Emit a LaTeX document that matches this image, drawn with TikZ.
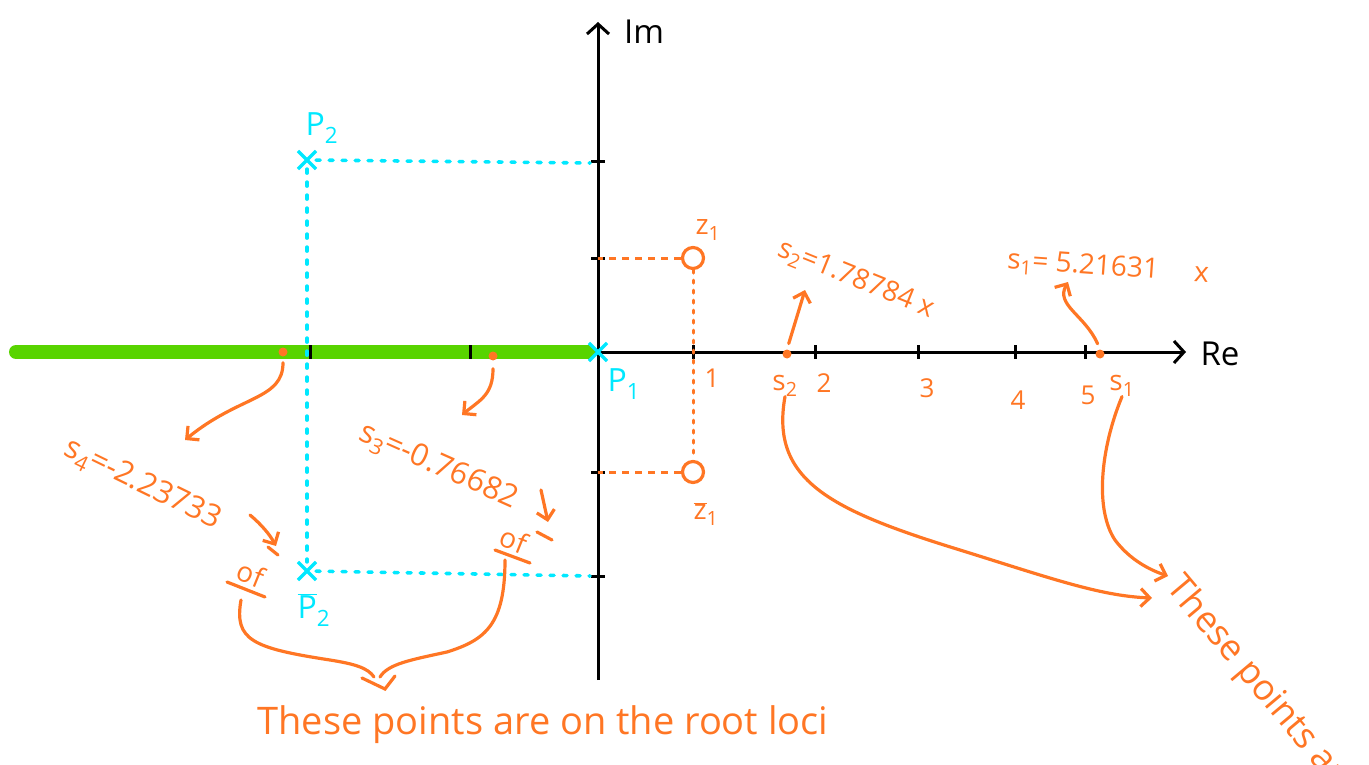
\documentclass[tikz,border=0pt]{standalone}
\usepackage{fontspec}
\setmainfont{Open Sans}
\usetikzlibrary{shapes.misc,arrows.meta}
\definecolor{locusorange}{RGB}{255,118,36}
\definecolor{polecyan}{RGB}{0,232,255}
\definecolor{locusgreen}{RGB}{88,212,0}
\tikzset{
  axis/.style={line width=3pt, -{Straight Barb[length=10pt,width=22pt,line width=3pt]}},
  axtick/.style={line width=3pt},
  ink/.style={locusorange, line width=3.2pt, line cap=round},
  pointer/.style={ink, -{Straight Barb[length=9pt,width=18pt,line width=3.2pt]}},
  pole/.style={draw=polecyan, cross out, line width=3.2pt, minimum size=15pt, inner sep=0pt},
  zerocirc/.style={draw=locusorange, circle, line width=3.2pt, minimum size=21pt, inner sep=0pt},
  rootdot/.style={fill=locusorange, circle, minimum size=9pt, inner sep=0pt},
  cyanguide/.style={polecyan, line width=3.6pt, line cap=round, dash pattern=on 4pt off 9pt},
  orangeguide/.style={locusorange, line width=3pt, dash pattern=on 7pt off 6pt},
  orangedots/.style={locusorange, line width=3pt, line cap=round, dash pattern=on 3pt off 7pt},
  cyantext/.style={text=polecyan, font=\fontsize{32}{34}\selectfont, inner sep=0pt},
  valtext/.style={text=locusorange, font=\fontsize{28}{30}\selectfont, inner sep=0pt},
  numlbl/.style={text=locusorange, font=\fontsize{26}{28}\selectfont, inner sep=0pt},
  bigtext/.style={text=locusorange, font=\fontsize{38}{40}\selectfont, inner sep=0pt},
}
\begin{document}
\begin{tikzpicture}[x=1pt, y=-1pt]
  \useasboundingbox (0,0) rectangle (1369,765);
  \clip (0,0) rectangle (1369,765);

  % Axes
  \coordinate (reStart) at (280,352);
  \coordinate (reEnd) at (1186,352);
  \coordinate (imStart) at (598,680);
  \coordinate (imEnd) at (598,22);
  \draw[axis] (reStart) -- (reEnd);
  \draw[axis] (imStart) -- (imEnd);
  \node[font=\fontsize{33}{35}\selectfont, inner sep=0pt] (relbl) at (1220,354) {Re};
  \node[font=\fontsize{33}{35}\selectfont, inner sep=0pt] (imlbl) at (644,32) {Im};

  % Root locus on the real axis
  \draw[locusgreen, line width=14pt, line cap=round] (16,352) -- (588,352);

  % Ticks
  \foreach \tx in {310,470,693,815,918,1015,1085}
    \draw[axtick] (\tx,345) -- (\tx,359);
  \foreach \ty in {162,258,472,576}
    \draw[axtick] (591,\ty) -- (605,\ty);
  \foreach \tx/\ty/\num in {712/378/1, 824/383/2, 927/388/3, 1018/400/4, 1088/395/5}
    \node[numlbl] (n\num) at (\tx,\ty) {\num};

  % Poles and zeros
  \node[pole] (p1) at (598,352) {};
  \node[pole] (p2) at (307,160) {};
  \node[pole] (p2b) at (307,571) {};
  \node[zerocirc] (z1) at (693,258) {};
  \node[zerocirc] (z1b) at (693,472) {};
  \node[cyantext] (p2lbl) at (322,128) {P\textsubscript{2}};
  \node[cyantext] (p1lbl) at (624,384) {P\textsubscript{1}};
  \node[cyantext] (p2blbl) at (314,610) {$\overline{\hbox{P}}$\textsubscript{2}};
  \node[numlbl, font=\fontsize{28}{30}\selectfont] (z1lbl) at (708,230) {z\textsubscript{1}};
  \node[numlbl, font=\fontsize{28}{30}\selectfont] (z1blbl) at (706,514) {$\overline{\hbox{z}}$\textsubscript{1}};

  % Guide lines to the imaginary axis
  \coordinate (yp2) at (590,163);
  \coordinate (yp2b) at (590,576);
  \coordinate (yz1) at (598,258);
  \coordinate (yz1b) at (598,472);
  \draw[cyanguide] (p2) -- (yp2);
  \draw[cyanguide] (p2) -- (p2b);
  \draw[cyanguide] (p2b) -- (yp2b);
  \draw[orangeguide] (z1) -- (yz1);
  \draw[orangeguide] (z1b) -- (yz1b);
  \draw[orangedots] (z1) -- (z1b);

  % Points s1..s4
  \node[rootdot] (s1) at (1100,354) {};
  \node[rootdot] (s2) at (787,354) {};
  \node[rootdot] (s3) at (493,356) {};
  \node[rootdot] (s4) at (283,352) {};
  \node[numlbl, font=\fontsize{28}{30}\selectfont] (s1lbl) at (1122,386) {s\textsubscript{1}};
  \node[numlbl, font=\fontsize{28}{30}\selectfont] (s2lbl) at (785,386) {s\textsubscript{2}};

  % Values
  \node[valtext, rotate=-22] (s2val) at (856,280) {s\textsubscript{2}=1.78784 x};
  \node[valtext, rotate=-4] (s1val) at (1108,268) {s\textsubscript{1}= 5.21631 \quad x};
  \node[valtext, font=\fontsize{31}{33}\selectfont, rotate=-26] (s4val) at (142,485) {s\textsubscript{4}=-2.23733};
  \node[valtext, font=\fontsize{31}{33}\selectfont, rotate=-24] (s3val) at (438,467) {s\textsubscript{3}=-0.76682};

  \coordinate (a1) at (1068,282);
  \coordinate (a2) at (805,290);
  \coordinate (a3) at (462,415);
  \coordinate (a4) at (185,440);
  \draw[pointer, shorten <=6pt] (s1.north) .. controls (1085,315) and (1055,305) .. (a1);
  \draw[pointer, shorten <=6pt] (s2.north) -- (a2);
  \draw[pointer, shorten <=8pt] (s3.south) .. controls (493,395) and (480,400) .. (a3);
  \draw[pointer, shorten <=6pt] (s4.south) .. controls (283,400) and (240,395) .. (a4);

  % "of" marks
  \node[valtext, rotate=-22] (of4) at (251,574) {of};
  \node[valtext, rotate=-22] (of3) at (514,540) {of};
  \draw[ink] (227,582) -- (265,597);
  \draw[ink] (268,547) -- (278,555);
  \draw[ink] (495,550) -- (530,563);
  \draw[ink] (537,532) -- (552,540);
  \coordinate (o4s) at (250,515);
  \coordinate (o4e) at (276,546);
  \coordinate (o3s) at (541,490);
  \coordinate (o3e) at (548,522);
  \draw[pointer] (o4s) .. controls (262,525) and (270,535) .. (o4e);
  \draw[pointer] (o3s) -- (o3e);

  % Brace
  \coordinate (bl) at (241,600);
  \coordinate (br) at (505,560);
  \draw[ink] (bl) .. controls (234,640) and (252,648) .. (330,660) .. controls (355,664) and (368,668) .. (374,677);
  \draw[ink] (br) .. controls (505,625) and (485,640) .. (447,652) .. controls (410,660) and (388,664) .. (380,677);
  \draw[ink] (362,678) -- (385,689) -- (395,676);

  % Notes
  \node[bigtext] (rootnote) at (543,725) {These points are on the root loci};
  \node[bigtext, font=\fontsize{36}{38}\selectfont, rotate=-50, anchor=north west] (rightnote) at (1186,570) {These points are};
  \coordinate (t2) at (1152,598);
  \coordinate (t1) at (1168,576);
  \draw[pointer] (s2lbl.south) .. controls (770,480) and (830,510) .. (960,550) .. controls (1050,578) and (1100,596) .. (t2);
  \draw[pointer] (s1lbl.south) .. controls (1100,450) and (1095,510) .. (1115,540) .. controls (1130,560) and (1150,570) .. (t1);
\end{tikzpicture}
\end{document}
